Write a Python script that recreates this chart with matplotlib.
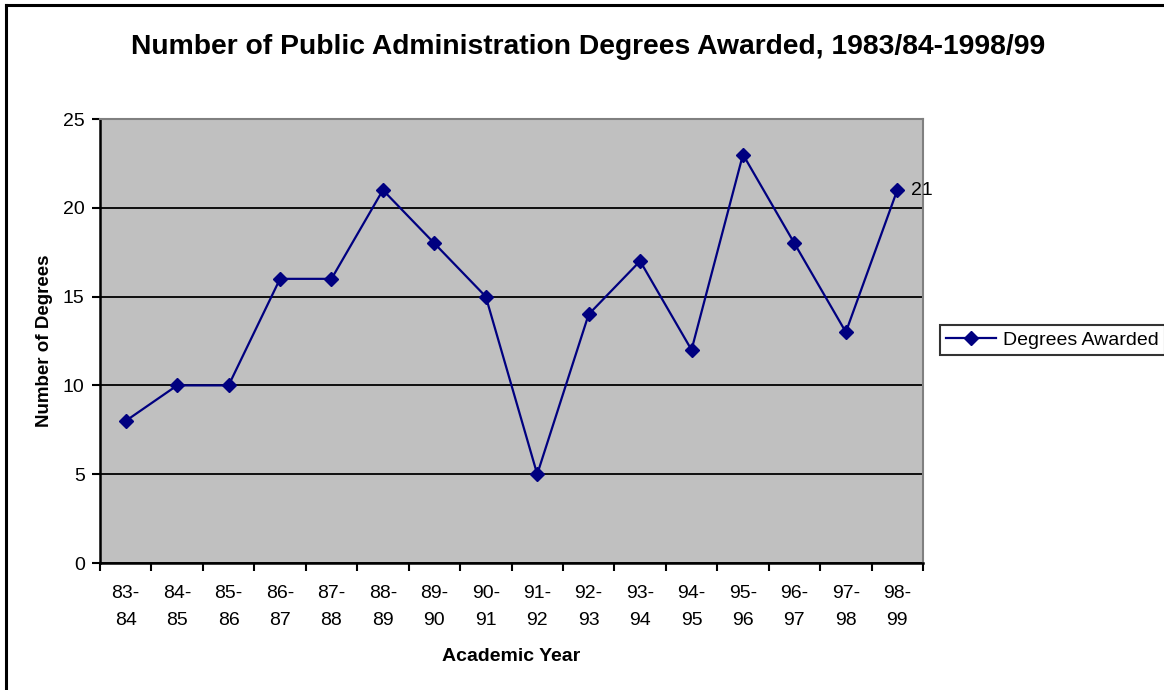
import numpy as np
import matplotlib
matplotlib.use('Agg')
import matplotlib.pyplot as plt
from matplotlib.lines import Line2D

plt.rcParams['font.family'] = ['Liberation Sans', 'DejaVu Sans']

years = ['83-\n84', '84-\n85', '85-\n86', '86-\n87', '87-\n88', '88-\n89',
         '89-\n90', '90-\n91', '91-\n92', '92-\n93', '93-\n94', '94-\n95',
         '95-\n96', '96-\n97', '97-\n98', '98-\n99']
degrees = [8, 10, 10, 16, 16, 21, 18, 15, 5, 14, 17, 12, 23, 18, 13, 21]
y_ticks = [0, 5, 10, 15, 20, 25]

W, H = 1164, 690
fig = plt.figure(figsize=(W / 100, H / 100), dpi=100)
fig.patch.set_facecolor('white')

# outer chart frame (only left and top edges are visible in the crop)
fig.add_artist(Line2D([5.5 / W, 5.5 / W], [0, 1 - 5 / H], transform=fig.transFigure,
                      color='black', lw=2.2))
fig.add_artist(Line2D([5.5 / W, 1], [1 - 5 / H, 1 - 5 / H], transform=fig.transFigure,
                      color='black', lw=2.2))

ax = fig.add_axes([100 / W, 1 - 563 / H, 823 / W, 444 / H])
ax.set_facecolor('#C0C0C0')

x = np.arange(len(degrees))
ax.plot(x, degrees, color='#000080', lw=1.6, marker='D', markersize=7,
        label='Degrees Awarded', zorder=3)
ax.annotate(str(degrees[-1]), (x[-1], degrees[-1]), xytext=(10, 0),
            textcoords='offset points', va='center', ha='left', fontsize=14)

ax.set_xlim(-0.5, len(degrees) - 0.5)
ax.set_ylim(0, 25)
ax.set_yticks(y_ticks)
ax.yaxis.grid(True, color='black', lw=1.3)
ax.set_axisbelow(True)

ax.set_xticks(np.arange(-0.5, len(degrees)), labels=[''] * (len(degrees) + 1))
ax.set_xticks(x, labels=years, minor=True)
ax.tick_params(axis='x', which='major', length=6, width=1.5, direction='out')
ax.tick_params(axis='x', which='minor', length=0, pad=16, labelsize=14)
for lbl in ax.get_xticklabels(minor=True):
    lbl.set_linespacing(1.72)
ax.tick_params(axis='y', length=6, width=1.5, pad=5, labelsize=14)

for side in ['left', 'bottom']:
    ax.spines[side].set_color('black')
    ax.spines[side].set_linewidth(1.8)
for side in ['top', 'right']:
    ax.spines[side].set_color('#808080')
    ax.spines[side].set_linewidth(1.5)

ax.set_xlabel('Academic Year', fontsize=14, fontweight='bold', labelpad=14)
ax.set_ylabel('Number of Degrees', fontsize=13.5, fontweight='bold', labelpad=7)

fig.suptitle('Number of Public Administration Degrees Awarded, 1983/84-1998/99',
             x=588 / W, y=1 - 47 / H, va='center', fontsize=20.3, fontweight='bold')

leg = fig.legend(loc='center left', bbox_to_anchor=(940 / W, 1 - 340 / H),
                 fontsize=14, frameon=True, fancybox=False, edgecolor='black',
                 borderpad=0.3, handlelength=2.6, handletextpad=0.35,
                 borderaxespad=0)
leg.get_frame().set_linewidth(1.5)

fig.savefig('out.png', dpi=100)
